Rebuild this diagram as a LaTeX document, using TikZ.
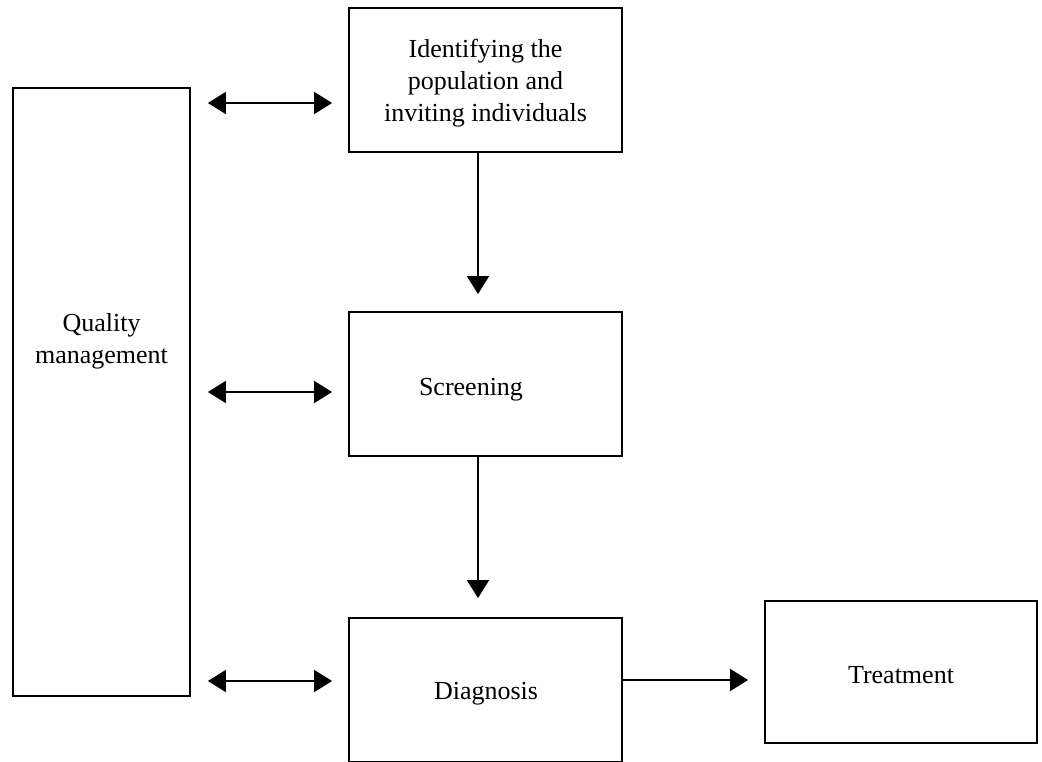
\documentclass[tikz,border=0pt]{standalone}
\usepackage{fontspec}
\setmainfont{Liberation Serif}
\usetikzlibrary{arrows.meta}
\tikzset{
  box/.style={draw=black, line width=1.8pt, inner sep=0pt},
  lbl/.style={inner sep=0pt, align=center, font=\fontsize{26}{32}\selectfont},
  conn/.style={line width=1.8pt, -{Triangle[length=18pt,width=22pt]}},
  dbl/.style={line width=1.8pt, {Triangle[length=18pt,width=22pt]}-{Triangle[length=18pt,width=22pt]}, shorten <=17pt, shorten >=16pt}
}
\begin{document}
\begin{tikzpicture}[x=1pt,y=-1pt]
\useasboundingbox (0,0) rectangle (1042,761);
\clip (0,0) rectangle (1042,761);
\node[box, minimum width=177pt, minimum height=608pt] (qm) at (101.5,392) {};
\node[lbl] (qmt) at (101.5,341) {Quality\\management};
\node[box, minimum width=273pt, minimum height=144pt] (id) at (485.5,80) {};
\node[lbl] (idt) at (485.5,83) {Identifying the\\population and\\inviting individuals};
\node[box, minimum width=273pt, minimum height=144pt] (sc) at (485.5,384) {};
\node[lbl] (sct) at (471,390) {Screening};
\node[box, minimum width=273pt, minimum height=144pt] (dg) at (485.5,690) {};
\node[lbl] (dgt) at (486,694) {Diagnosis};
\node[box, minimum width=272pt, minimum height=142pt] (tr) at (901,672) {};
\node[lbl] (trt) at (901,675) {Treatment};
\coordinate (ax) at (478,0);
\draw[conn, shorten >=17pt] (id.south -| ax) -- (sc.north -| ax);
\draw[conn, shorten >=19pt] (sc.south -| ax) -- (dg.north -| ax);
\draw[conn, shorten >=16pt] (dg.east |- 0,680) -- (tr.west |- 0,680);
\draw[dbl] (qm.east |- 0,103) -- (id.west |- 0,103);
\draw[dbl] (qm.east |- 0,392) -- (sc.west |- 0,392);
\draw[dbl] (qm.east |- 0,681) -- (dg.west |- 0,681);
\end{tikzpicture}
\end{document}
